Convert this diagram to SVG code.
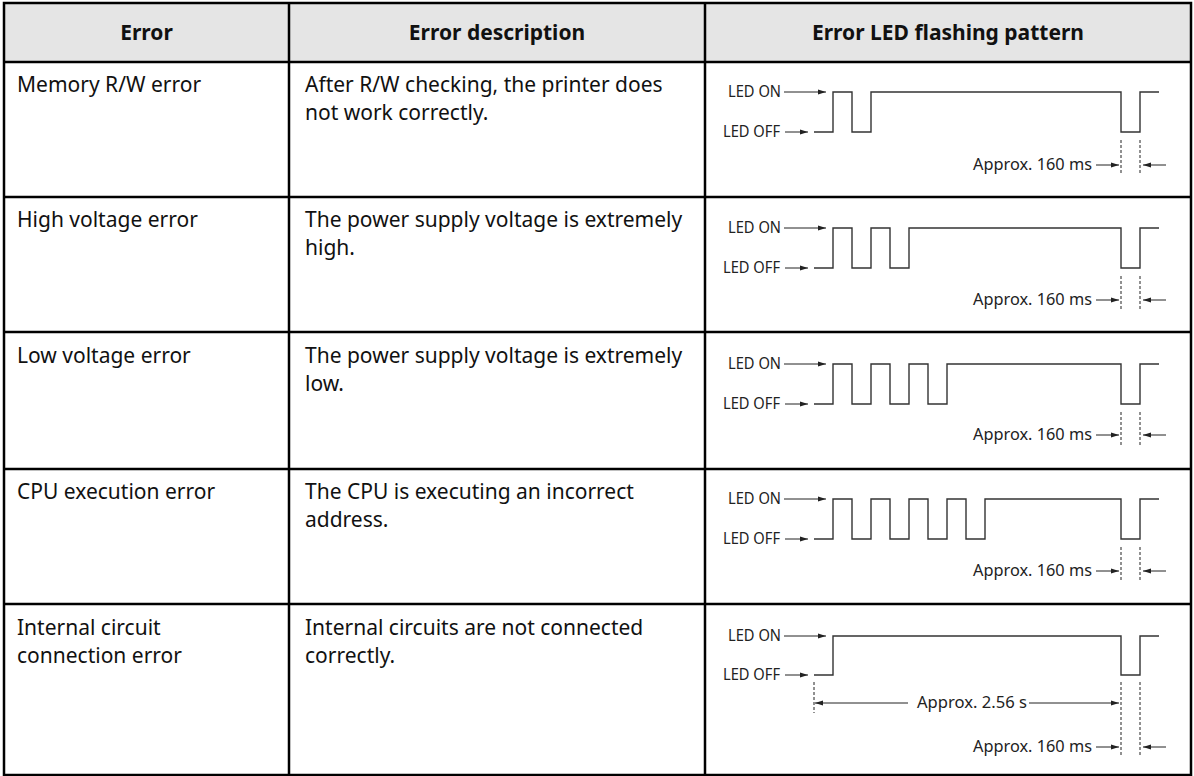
<svg xmlns="http://www.w3.org/2000/svg" width="1194" height="776" viewBox="0 0 1194 776">
<style>
.hd{font-family:"Noto Sans","Open Sans",sans-serif;font-weight:bold;font-size:21px;fill:#111;text-anchor:middle}
.bd{font-family:"Noto Sans","Open Sans",sans-serif;font-size:21px;fill:#111}
.lb{font-family:"Noto Sans","Open Sans",sans-serif;font-size:16px;fill:#222}
.end{text-anchor:end}
.grid{stroke:#000;stroke-width:2.5;fill:none}
.wave{stroke:#333;stroke-width:1.4;fill:none}
.arr{stroke:#222;stroke-width:1;fill:none;marker-end:url(#ah)}
.dash{stroke:#222;stroke-width:1;stroke-dasharray:3 2;fill:none}
</style>
<defs>
<marker id="ah" markerWidth="8" markerHeight="6" refX="8" refY="3" orient="auto" markerUnits="userSpaceOnUse">
<path d="M0,0.6 L8,3 L0,5.4 z" fill="#222"/>
</marker>
</defs>
<rect width="1194" height="776" fill="#fff"/>
<g id="header">
<rect x="4" y="3" width="1187" height="59" fill="#e5e5e5"/>
<text class="hd" x="146.5" y="40">Error</text>
<text class="hd" x="497" y="40">Error description</text>
<text class="hd" x="948" y="40">Error LED flashing pattern</text>
</g>
<g id="grid">
<rect class="grid" x="4" y="3" width="1187" height="772"/>
<line class="grid" x1="4" y1="62" x2="1191" y2="62"/>
<line class="grid" x1="4" y1="197" x2="1191" y2="197"/>
<line class="grid" x1="4" y1="332" x2="1191" y2="332"/>
<line class="grid" x1="4" y1="469" x2="1191" y2="469"/>
<line class="grid" x1="4" y1="604" x2="1191" y2="604"/>
<line class="grid" x1="289" y1="3" x2="289" y2="775"/>
<line class="grid" x1="705" y1="3" x2="705" y2="775"/>
</g>
<g id="row-memory">
<text class="bd" x="17" y="92">Memory R/W error</text>
<text class="bd" x="305" y="92">After R/W checking, the printer does</text>
<text class="bd" x="305" y="120">not work correctly.</text>
<text class="lb" x="728" y="97" textLength="53" lengthAdjust="spacingAndGlyphs">LED ON</text>
<text class="lb" x="723" y="137" textLength="57" lengthAdjust="spacingAndGlyphs">LED OFF</text>
<path class="wave" d="M814,132 H833 V92 H852 V132 H871 V92 H1121 V132 H1140 V92 H1159"/>
<text class="lb" x="973" y="170" textLength="119" lengthAdjust="spacingAndGlyphs">Approx. 160 ms</text>
</g>
<g id="row-high">
<text class="bd" x="17" y="227">High voltage error</text>
<text class="bd" x="305" y="227">The power supply voltage is extremely</text>
<text class="bd" x="305" y="255">high.</text>
<text class="lb" x="728" y="233" textLength="53" lengthAdjust="spacingAndGlyphs">LED ON</text>
<text class="lb" x="723" y="273" textLength="57" lengthAdjust="spacingAndGlyphs">LED OFF</text>
<path class="wave" d="M814,268 H833 V228 H852 V268 H871 V228 H890 V268 H909 V228 H1121 V268 H1140 V228 H1159"/>
<text class="lb" x="973" y="305" textLength="119" lengthAdjust="spacingAndGlyphs">Approx. 160 ms</text>
</g>
<g id="row-low">
<text class="bd" x="17" y="363">Low voltage error</text>
<text class="bd" x="305" y="363">The power supply voltage is extremely</text>
<text class="bd" x="305" y="391">low.</text>
<text class="lb" x="728" y="369" textLength="53" lengthAdjust="spacingAndGlyphs">LED ON</text>
<text class="lb" x="723" y="409" textLength="57" lengthAdjust="spacingAndGlyphs">LED OFF</text>
<path class="wave" d="M814,404 H833 V364 H852 V404 H871 V364 H890 V404 H909 V364 H928 V404 H947 V364 H1121 V404 H1140 V364 H1159"/>
<text class="lb" x="973" y="440" textLength="119" lengthAdjust="spacingAndGlyphs">Approx. 160 ms</text>
</g>
<g id="row-cpu">
<text class="bd" x="17" y="499">CPU execution error</text>
<text class="bd" x="305" y="499">The CPU is executing an incorrect</text>
<text class="bd" x="305" y="527">address.</text>
<text class="lb" x="728" y="504" textLength="53" lengthAdjust="spacingAndGlyphs">LED ON</text>
<text class="lb" x="723" y="544" textLength="57" lengthAdjust="spacingAndGlyphs">LED OFF</text>
<path class="wave" d="M814,539 H833 V499 H852 V539 H871 V499 H890 V539 H909 V499 H928 V539 H947 V499 H966 V539 H985 V499 H1121 V539 H1140 V499 H1159"/>
<text class="lb" x="973" y="576" textLength="119" lengthAdjust="spacingAndGlyphs">Approx. 160 ms</text>
</g>
<g id="row-internal">
<text class="bd" x="17" y="635">Internal circuit</text>
<text class="bd" x="17" y="663">connection error</text>
<text class="bd" x="305" y="635">Internal circuits are not connected</text>
<text class="bd" x="305" y="663">correctly.</text>
<text class="lb" x="728" y="641" textLength="53" lengthAdjust="spacingAndGlyphs">LED ON</text>
<text class="lb" x="723" y="680" textLength="57" lengthAdjust="spacingAndGlyphs">LED OFF</text>
<path class="wave" d="M814,675 H833 V636 H1121 V675 H1140 V636 H1159"/>
<text class="lb" x="917" y="708" textLength="110" lengthAdjust="spacingAndGlyphs">Approx. 2.56 s</text>
<text class="lb" x="973" y="752" textLength="119" lengthAdjust="spacingAndGlyphs">Approx. 160 ms</text>
</g>
<g id="connectors">
<line class="arr" x1="784" y1="92" x2="826" y2="92"/>
<line class="arr" x1="785" y1="132" x2="808" y2="132"/>
<line class="arr" x1="1096" y1="165" x2="1119" y2="165"/>
<line class="arr" x1="1166" y1="165" x2="1143" y2="165"/>
<line class="dash" x1="1121" y1="140" x2="1121" y2="175"/>
<line class="dash" x1="1140" y1="140" x2="1140" y2="175"/>

<line class="arr" x1="784" y1="228" x2="826" y2="228"/>
<line class="arr" x1="785" y1="268" x2="808" y2="268"/>
<line class="arr" x1="1096" y1="300" x2="1119" y2="300"/>
<line class="arr" x1="1166" y1="300" x2="1143" y2="300"/>
<line class="dash" x1="1121" y1="276" x2="1121" y2="310"/>
<line class="dash" x1="1140" y1="276" x2="1140" y2="310"/>

<line class="arr" x1="784" y1="364" x2="826" y2="364"/>
<line class="arr" x1="785" y1="404" x2="808" y2="404"/>
<line class="arr" x1="1096" y1="435" x2="1119" y2="435"/>
<line class="arr" x1="1166" y1="435" x2="1143" y2="435"/>
<line class="dash" x1="1121" y1="412" x2="1121" y2="445"/>
<line class="dash" x1="1140" y1="412" x2="1140" y2="445"/>

<line class="arr" x1="784" y1="499" x2="826" y2="499"/>
<line class="arr" x1="785" y1="539" x2="808" y2="539"/>
<line class="arr" x1="1096" y1="571" x2="1119" y2="571"/>
<line class="arr" x1="1166" y1="571" x2="1143" y2="571"/>
<line class="dash" x1="1121" y1="547" x2="1121" y2="581"/>
<line class="dash" x1="1140" y1="547" x2="1140" y2="581"/>

<line class="arr" x1="784" y1="636" x2="826" y2="636"/>
<line class="arr" x1="785" y1="675" x2="808" y2="675"/>
<line class="dash" x1="814" y1="682" x2="814" y2="713"/>
<line class="arr" x1="908" y1="703" x2="815" y2="703"/>
<line class="arr" x1="1029" y1="703" x2="1119" y2="703"/>
<line class="arr" x1="1096" y1="747" x2="1119" y2="747"/>
<line class="arr" x1="1166" y1="747" x2="1143" y2="747"/>
<line class="dash" x1="1121" y1="682" x2="1121" y2="757"/>
<line class="dash" x1="1140" y1="682" x2="1140" y2="757"/>
</g>
</svg>
